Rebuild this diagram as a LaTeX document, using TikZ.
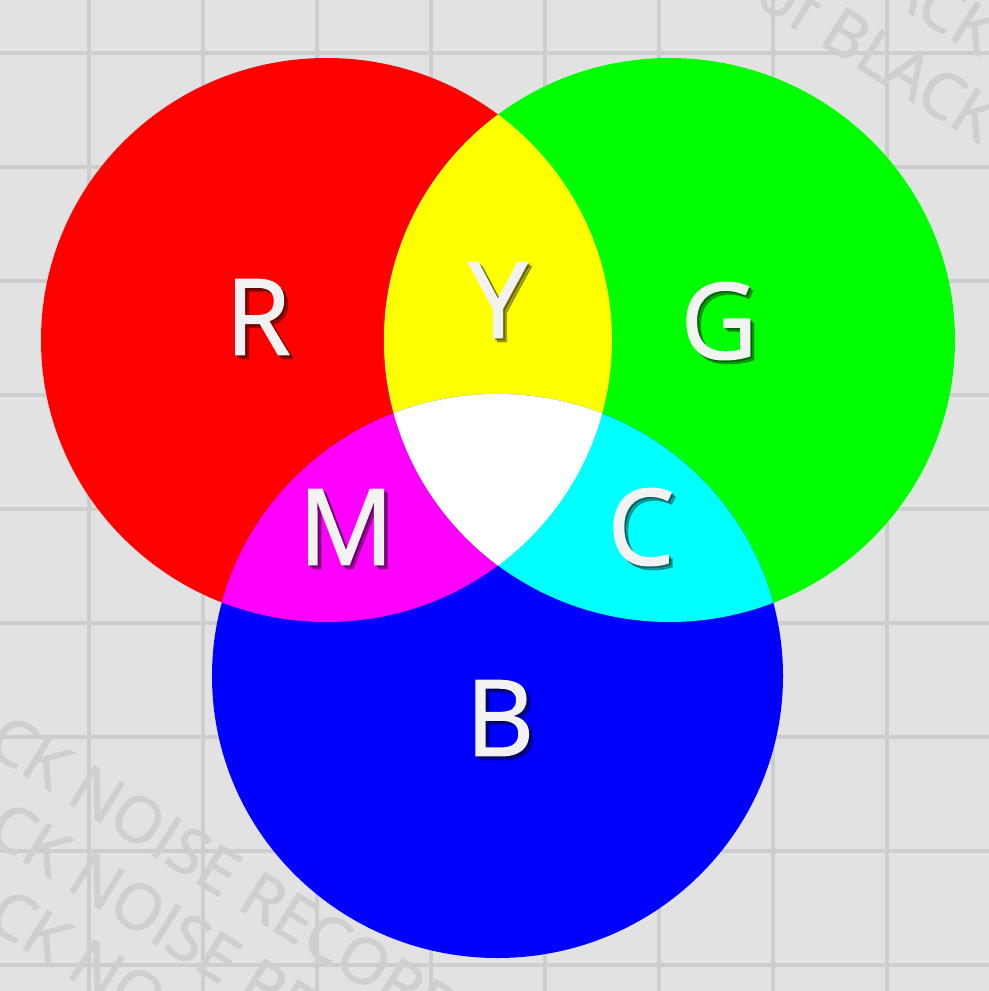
\documentclass[tikz,border=0pt]{standalone}
\usepackage{fontspec}
\usepackage{tikz}
\usetikzlibrary{positioning}
\newfontfamily\letrafont[FakeBold=1.4]{Open Sans}
\newfontfamily\marcafont[FakeBold=1.6]{Open Sans}
\definecolor{cfondo}{HTML}{E2E2E2}
\definecolor{crejilla}{HTML}{CDCDCD}
\definecolor{cmarca}{HTML}{CFCFCF}
\definecolor{crojo}{HTML}{FF0000}
\definecolor{cverde}{HTML}{00FF00}
\definecolor{cazul}{HTML}{0000FF}
\definecolor{camarillo}{HTML}{FFFF00}
\definecolor{ccian}{HTML}{00FFFF}
\definecolor{cmagenta}{HTML}{FF00FF}
\definecolor{cletra}{HTML}{F2F2F2}
\tikzset{
  rejilla/.style={draw=crejilla, line width=0.45mm},
  marca/.style={font=\marcafont\fontsize{18}{18}\selectfont, text=cmarca,
    rotate=-32, anchor=base west, inner sep=0pt},
  letra/.style={font=\letrafont\fontsize{30}{30}\selectfont, text=cletra, inner sep=0pt},
  sombra/.style={letra, text=black, opacity=0.3},
  disco/.style={x radius=285.5, y radius=282},
}

\begin{document}
\begin{tikzpicture}[x=0.01cm, y=-0.01cm]
  \useasboundingbox (0,0) rectangle (989,991);
  \clip (0,0) rectangle (989,991);
  \fill[cfondo] (0,0) rectangle (989,991);
  % rejilla de fondo
  \foreach \x in {89,203,...,887} \draw[rejilla] (\x,0) -- (\x,991);
  \foreach \y in {53,167,...,965} \draw[rejilla] (0,\y) -- (989,\y);
  % marca de agua
  \node[marca] (m1) at (-112,690) {BLACK NOISE RECORDS};
  \node[marca] (m2) at (-112,777) {BLACK NOISE RECORDS};
  \node[marca] (m3) at (-112,864) {BLACK NOISE RECORDS};
  \node[marca] (m4) at (752,2) {of BLACK NOISE};
  \node[marca] (m5) at (752,-85) {of BLACK NOISE};
  % circulos
  \coordinate (cR) at (326.5,340);
  \coordinate (cG) at (669.5,340);
  \coordinate (cB) at (497.5,676);
  \fill[crojo] (cR) ellipse [disco];
  \fill[cverde] (cG) ellipse [disco];
  \fill[cazul] (cB) ellipse [disco];
  \begin{scope}
    \clip (cR) ellipse [disco];
    \fill[camarillo] (cG) ellipse [disco];
    \fill[cmagenta] (cB) ellipse [disco];
  \end{scope}
  \begin{scope}
    \clip (cG) ellipse [disco];
    \fill[ccian] (cB) ellipse [disco];
    \clip (cR) ellipse [disco];
    \fill[white] (cB) ellipse [disco];
  \end{scope}
  % letras
  \foreach \n/\x/\y in {R/258/317, Y/498/300, G/719/321, M/346/527, C/641/527, B/500/718} {
    \node[sombra] at (\x+4,\y+4) {\n};
    \node[sombra] at (\x+2,\y+2) {\n};
    \node[letra] (l\n) at (\x,\y) {\n};
  }
\end{tikzpicture}
\end{document}
